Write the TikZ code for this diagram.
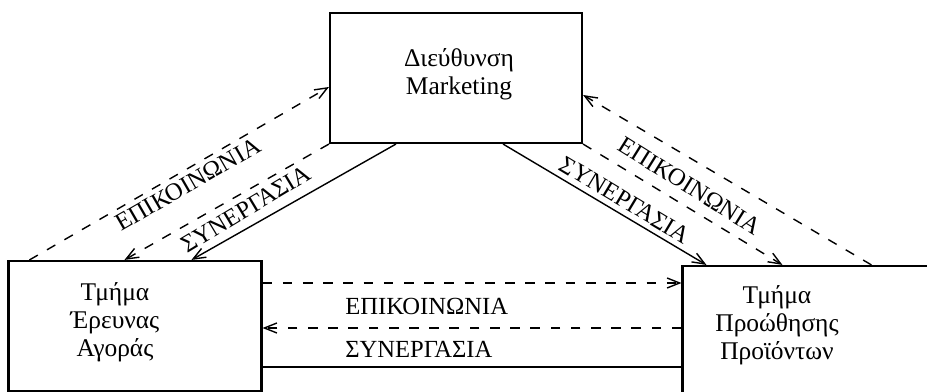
\documentclass[tikz,border=0pt]{standalone}
\usepackage{fontspec}
\setmainfont{Liberation Serif}
\usetikzlibrary{arrows.meta}

\begin{document}
\begin{tikzpicture}[x=0.2mm,y=-0.2mm,
    box/.style={draw,line width=1.2pt,minimum width=50.6mm,minimum height=26mm,inner sep=0pt},
    txt/.style={align=center,font=\fontsize{14.5}{16}\selectfont},
    lbl/.style={font=\fontsize{14}{16}\selectfont,inner sep=0pt},
    comm/.style={line width=0.8pt,dash pattern=on 5.5pt off 6pt,-{Straight Barb[length=2.5mm,width=2mm]}},
    coop/.style={line width=0.8pt,-{Straight Barb[length=2.5mm,width=2mm]}}]
  \clip (0,0) rectangle (927,392);
  \node[box,minimum width=50.4mm] (top) at (456,78) {};
  \node[box] (left) at (135,326) {};
  \node[box] (right) at (809,331) {};
  \node[txt] (topT) at (459,74) {Διεύθυνση\\Marketing};
  \node[txt] (leftT) at (115,322) {Τμήμα\\Έρευνας\\Αγοράς};
  \node[txt] (rightT) at (777,325) {Τμήμα\\Προώθησης\\Προϊόντων};
  % labels on the links
  \node[lbl,rotate=30] (commL) at (188,184) {ΕΠΙΚΟΙΝΩΝΙΑ};
  \node[lbl,rotate=31] (coopL) at (246,209) {ΣΥΝΕΡΓΑΣΙΑ};
  \node[lbl,rotate=-32] (commR) at (690,186) {ΕΠΙΚΟΙΝΩΝΙΑ};
  \node[lbl,rotate=-31] (coopR) at (625,200) {ΣΥΝΕΡΓΑΣΙΑ};
  \node[lbl,anchor=west] (commH) at (345,306) {ΕΠΙΚΟΙΝΩΝΙΑ};
  \node[lbl,anchor=west] (coopH) at (345,349) {ΣΥΝΕΡΓΑΣΙΑ};
  % links
  \draw[comm] ([xshift=4.4mm]left.north west) -- ([yshift=-1.8mm]top.west);
  \draw[comm] (top.south west) -- ([xshift=23.4mm]left.north west);
  \draw[coop] ([xshift=13.4mm]top.south west) -- ([xshift=36.8mm]left.north west);
  \draw[coop] ([xshift=-16mm]top.south east) -- ([xshift=5mm]right.north west);
  \draw[comm] (top.south east) -- ([xshift=20.2mm]right.north west);
  \draw[comm] ([xshift=38mm]right.north west) -- ([yshift=-3.4mm]top.east);
  \coordinate (h1) at (0,283);
  \coordinate (h2) at (0,328);
  \coordinate (h3) at (0,367);
  \draw[comm] (h1 -| left.east) -- (h1 -| right.west);
  \draw[comm] (h2 -| right.west) -- (h2 -| left.east);
  \draw[coop,-] (h3 -| left.east) -- (h3 -| right.west);
\end{tikzpicture}
\end{document}
